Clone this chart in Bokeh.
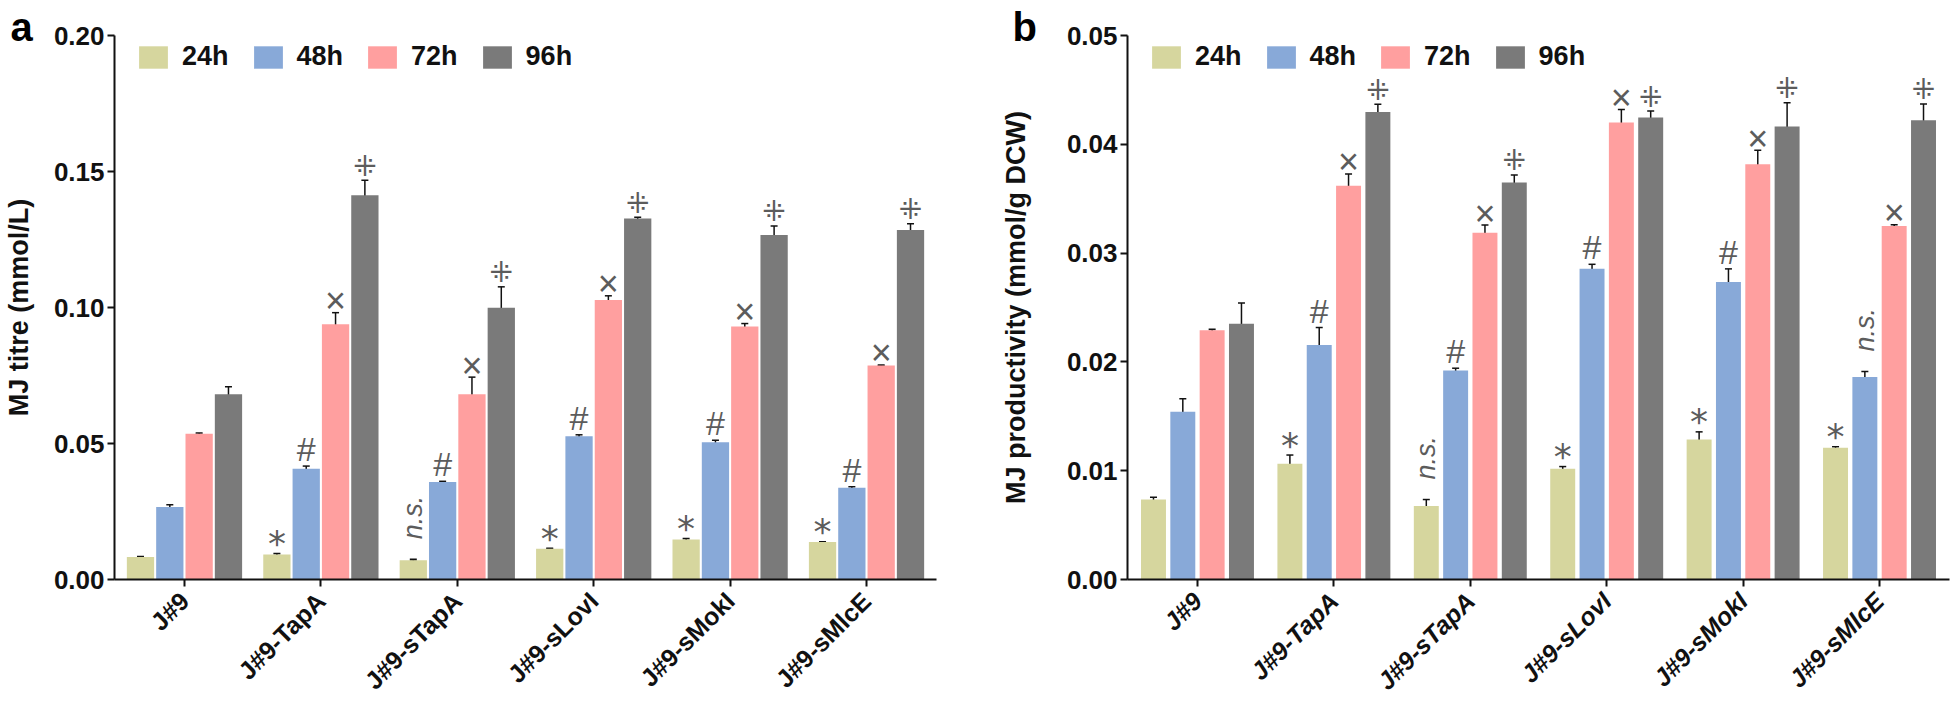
import math
from bokeh.plotting import figure
from bokeh.models import (ColumnDataSource, Range1d, FixedTicker, NumeralTickFormatter,
                          Whisker, TeeHead, Legend, LegendItem)
from bokeh.layouts import row
from bokeh.embed import file_html
from bokeh.resources import INLINE
from bokeh.core.properties import value

# ---------------- data ----------------
categories = ["J#9", "J#9-TapA", "J#9-sTapA", "J#9-sLovI", "J#9-sMokI", "J#9-sMlcE"]
series = ["24h", "48h", "72h", "96h"]

# panel a: MJ titre (mmol/L)
titre_24h = [0.0083, 0.0092, 0.0071, 0.0113, 0.0147, 0.0138]
titre_24h_err = [0.0002, 0.0004, 0.0003, 0.0002, 0.0004, 0.0001]
titre_48h = [0.0267, 0.0407, 0.0358, 0.0527, 0.0505, 0.0337]
titre_48h_err = [0.0008, 0.0010, 0.0003, 0.0005, 0.0007, 0.0004]
titre_72h = [0.0536, 0.0938, 0.0681, 0.1028, 0.0930, 0.0787]
titre_72h_err = [0.0003, 0.0043, 0.0063, 0.0015, 0.0011, 0.0002]
titre_96h = [0.0681, 0.1413, 0.0999, 0.1327, 0.1267, 0.1285]
titre_96h_err = [0.0028, 0.0055, 0.0077, 0.0005, 0.0033, 0.0023]

# panel b: MJ productivity (mmol/g DCW)
prod_24h = [0.00736, 0.01064, 0.00675, 0.01018, 0.01287, 0.01211]
prod_24h_err = [0.0002, 0.0008, 0.0006, 0.0002, 0.0007, 0.0001]
prod_48h = [0.01542, 0.02156, 0.01922, 0.02857, 0.02735, 0.01861]
prod_48h_err = [0.0012, 0.0016, 0.0002, 0.0004, 0.0012, 0.0005]
prod_72h = [0.0229, 0.03618, 0.03188, 0.0420, 0.03816, 0.0325]
prod_72h_err = [0.0001, 0.0011, 0.0007, 0.0012, 0.0013, 0.0001]
prod_96h = [0.02351, 0.04298, 0.03648, 0.04246, 0.04163, 0.04221]
prod_96h_err = [0.0019, 0.0007, 0.0007, 0.0006, 0.0022, 0.0015]

# significance marks
ann_a_24h = ["", "*", "n.s.", "*", "*", "*"]
ann_a_48h = ["", "#", "#", "#", "#", "#"]
ann_a_72h = ["", "×", "×", "×", "×", "×"]
ann_a_96h = ["", "⁜", "⁜", "⁜", "⁜", "⁜"]
ann_b_24h = ["", "*", "n.s.", "*", "*", "*"]
ann_b_48h = ["", "#", "#", "#", "#", "n.s."]
ann_b_72h = ["", "×", "×", "×", "×", "×"]
ann_b_96h = ["", "⁜", "⁜", "⁜", "⁜", "⁜"]

y_ticks_a = [0.0, 0.05, 0.10, 0.15, 0.20]
y_ticks_b = [0.0, 0.01, 0.02, 0.03, 0.04, 0.05]

# ---------------- style ----------------
COLORS = ["#d6d69e", "#88a9d8", "#ff9f9f", "#7a7a7a"]
FONT = "Liberation Sans"
MARK_COLOR = "#5c5c5c"
BAR_PITCH = 0.215
SYM = {
    "*": dict(font="DejaVu Sans", size="36px", style="normal", yoff=-10, angle=0.0, align="center", base="alphabetic"),
    "#": dict(font=FONT, size="34px", style="normal", yoff=-17, angle=0.0, align="center", base="alphabetic"),
    "×": dict(font=FONT, size="36px", style="normal", yoff=-12, angle=0.0, align="center", base="alphabetic"),
    "⁜": dict(font="DejaVu Sans", size="28px", style="normal", yoff=-14, angle=0.0, align="center", base="alphabetic"),
    "n.s.": dict(font=FONT, size="27px", style="italic", yoff=-20, angle=math.pi / 2, align="left", base="middle"),
}


def build(letter, ylabel, vals, errs, anns, yticks, bar_w, italic, bl, br,
          letter_offset, ylab_standoff):
    p = figure(frame_width=822, frame_height=544,
               min_border_left=bl, min_border_right=br, min_border_top=35, min_border_bottom=121,
               x_range=Range1d(-0.513, 5.513), y_range=Range1d(0, yticks[-1]),
               output_backend="svg", toolbar_location=None)
    p.outline_line_color = None
    p.xgrid.visible = False
    p.ygrid.visible = False

    # panel letter as the title
    p.title.text = letter
    p.title.text_font = FONT
    p.title.text_font_size = "40px"
    p.title.text_font_style = "bold"
    p.title.text_color = "#000000"
    p.title.align = "left"
    p.title.vertical_align = "top"
    p.title.offset = letter_offset
    p.title.standoff = -30

    items = []
    for j, name in enumerate(series):
        xs = [i + (j - 1.5) * BAR_PITCH for i in range(len(categories))]
        up = [v + e for v, e in zip(vals[j], errs[j])]
        lo = [v - e for v, e in zip(vals[j], errs[j])]
        src = ColumnDataSource(dict(x=xs, top=vals[j], upper=up, lower=lo))
        r = p.vbar(x="x", top="top", width=bar_w, source=src,
                   fill_color=COLORS[j], line_color=None)
        items.append(LegendItem(label=name, renderers=[r]))
        w = Whisker(source=src, base="x", upper="upper", lower="lower",
                    line_color="#111111", line_width=1.5,
                    upper_head=TeeHead(size=7, line_color="#111111", line_width=1.5),
                    lower_head=TeeHead(size=7, line_color="#111111", line_width=1.5))
        p.add_layout(w)
        # significance marks
        groups = {}
        for i, t in enumerate(anns[j]):
            if t:
                groups.setdefault(t, ([], [], []))
                groups[t][0].append(xs[i])
                groups[t][1].append(up[i])
                groups[t][2].append(t)
        for t, (gx, gy, gt) in groups.items():
            st = SYM[t]
            p.text(x=gx, y=gy, text=gt, text_color=MARK_COLOR,
                   text_font=value(st["font"]), text_font_size=st["size"],
                   text_font_style=st["style"], text_align=st["align"],
                   text_baseline=st["base"], angle=st["angle"], y_offset=st["yoff"])

    legend = Legend(items=items, orientation="horizontal", location=(21, 507),
                    glyph_width=36, glyph_height=28, label_standoff=11, spacing=21,
                    padding=0, margin=0, border_line_color=None, background_fill_alpha=0,
                    label_text_font=FONT, label_text_font_size="27px",
                    label_text_font_style="bold", label_text_color="#111111")
    p.add_layout(legend)

    # axes
    p.xaxis.ticker = FixedTicker(ticks=list(range(len(categories))))
    p.xaxis.major_label_overrides = {i: c for i, c in enumerate(categories)}
    p.xaxis.major_label_orientation = math.pi / 4
    p.xaxis.major_label_text_font = FONT
    p.xaxis.major_label_text_font_size = "25px"
    p.xaxis.major_label_text_font_style = "bold italic" if italic else "bold"
    p.xaxis.major_label_text_color = "#111111"
    p.xaxis.major_label_standoff = 10
    p.yaxis.ticker = FixedTicker(ticks=yticks)
    p.yaxis.formatter = NumeralTickFormatter(format="0.00")
    p.yaxis.major_label_text_font = FONT
    p.yaxis.major_label_text_font_size = "26px"
    p.yaxis.major_label_text_font_style = "bold"
    p.yaxis.major_label_text_color = "#111111"
    p.yaxis.major_label_standoff = 3
    p.yaxis.axis_label = ylabel
    p.yaxis.axis_label_text_font = FONT
    p.yaxis.axis_label_text_font_size = "27px"
    p.yaxis.axis_label_text_font_style = "bold"
    p.yaxis.axis_label_text_color = "#111111"
    p.yaxis.axis_label_standoff = ylab_standoff
    for ax in (p.xaxis, p.yaxis):
        ax.axis_line_width = 2
        ax.axis_line_color = "#111111"
        ax.major_tick_line_width = 2
        ax.major_tick_line_color = "#111111"
        ax.major_tick_out = 7
        ax.major_tick_in = 0
        ax.minor_tick_line_color = None
    return p


pa = build("a", "MJ titre (mmol/L)",
           [titre_24h, titre_48h, titre_72h, titre_96h],
           [titre_24h_err, titre_48h_err, titre_72h_err, titre_96h_err],
           [ann_a_24h, ann_a_48h, ann_a_72h, ann_a_96h],
           y_ticks_a, 0.2, False, 112, 40, -104, 17)
pb = build("b", "MJ productivity (mmol/g DCW)",
           [prod_24h, prod_48h, prod_72h, prod_96h],
           [prod_24h_err, prod_48h_err, prod_72h_err, prod_96h_err],
           [ann_b_24h, ann_b_48h, ann_b_72h, ann_b_96h],
           y_ticks_b, 0.183, True, 151, 2, -115, 33)

layout = row(pa, pb)
open("out.html", "w").write(file_html(layout, INLINE))
